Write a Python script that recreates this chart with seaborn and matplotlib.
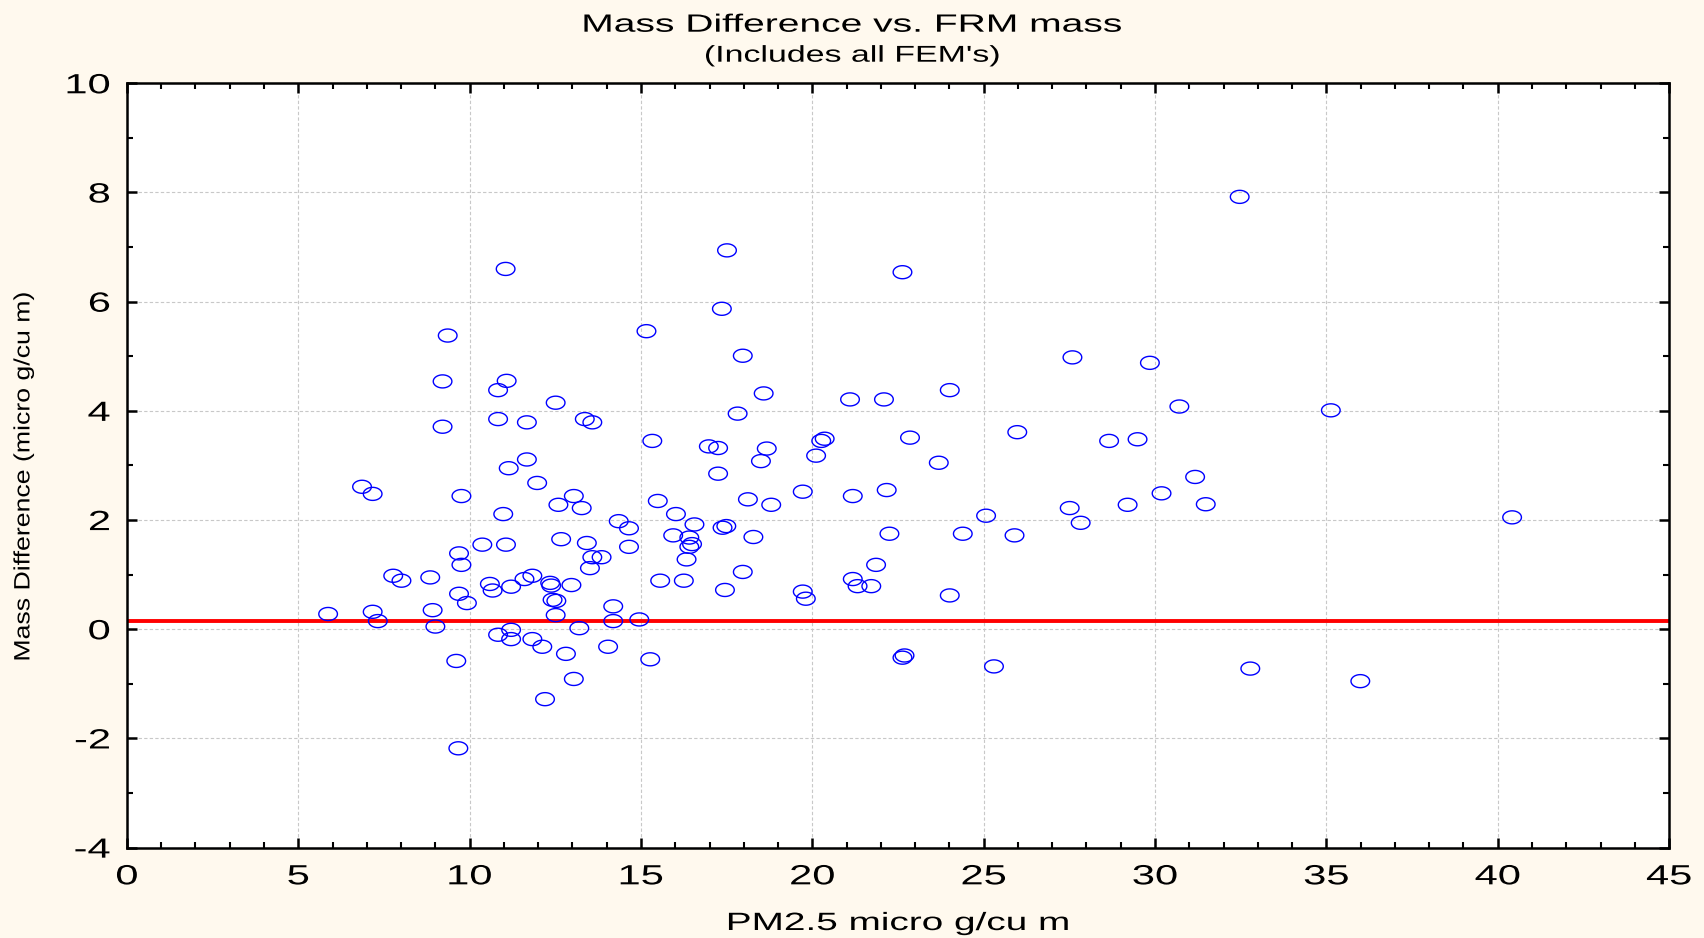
import numpy as np
import pandas as pd
import matplotlib
matplotlib.use("Agg")
import matplotlib.pyplot as plt
from matplotlib.path import Path
from matplotlib.ticker import MultipleLocator
from matplotlib import patheffects as pe
from matplotlib.transforms import Affine2D
import seaborn as sns

# ---- data ----
pm25 = [
    9.21, 10.83, 11.08, 12.51, 9.21, 10.83, 11.67, 13.36, 13.58, 15.33,
    16.98, 17.25, 17.25, 11.67, 11.14, 11.97, 6.86, 7.17, 9.76, 13.04,
    12.59, 13.27, 10.98, 15.49, 16.02, 16.56, 14.35, 14.65, 15.94, 16.41,
    16.49, 16.41, 16.33, 17.38, 17.45, 10.37, 11.06, 12.67, 13.42, 14.65,
    9.69, 9.76, 13.58, 13.85, 13.51, 7.77, 8.01, 8.85, 10.59, 10.67,
    11.21, 11.60, 11.83, 12.35, 12.38, 12.97, 9.69, 9.92, 12.42, 12.53,
    12.51, 14.19, 14.19, 14.95, 15.56, 16.25, 5.87, 7.17, 7.32, 8.92,
    9.00, 10.83, 11.21, 11.21, 11.83, 12.12, 12.81, 13.20, 14.04, 15.27,
    9.61, 13.04, 12.20, 9.67, 11.05, 9.36, 15.16,
    17.51, 22.63, 17.36, 17.97, 18.58, 17.82, 21.10, 22.09, 24.01, 27.59,
    29.85, 18.67, 18.50, 20.36, 20.26, 20.11, 22.85, 23.69, 25.98, 28.66,
    29.49, 18.12, 18.80, 19.72, 21.18, 22.17, 17.49, 18.28, 22.25, 24.39,
    25.07, 25.90, 27.51, 27.83, 29.20, 17.97, 19.72, 19.81, 21.18, 21.32,
    21.72, 21.86, 24.01, 22.63, 22.69, 25.30,
    32.47, 30.71, 35.13, 31.17, 30.19, 31.48, 40.42, 32.78, 35.99,
]
mass_diff = [
    4.54, 4.38, 4.55, 4.15, 3.71, 3.85, 3.79, 3.85, 3.79, 3.45,
    3.35, 3.32, 2.85, 3.11, 2.95, 2.68, 2.61, 2.48, 2.44, 2.44,
    2.28, 2.22, 2.11, 2.35, 2.11, 1.92, 1.98, 1.85, 1.72, 1.68,
    1.56, 1.51, 1.28, 1.86, 0.72, 1.55, 1.55, 1.65, 1.58, 1.51,
    1.39, 1.18, 1.32, 1.32, 1.12, 0.98, 0.89, 0.95, 0.83, 0.71,
    0.78, 0.92, 0.98, 0.85, 0.80, 0.81, 0.65, 0.48, 0.54, 0.52,
    0.26, 0.42, 0.15, 0.18, 0.89, 0.89, 0.28, 0.32, 0.15, 0.35,
    0.05, -0.10, -0.01, -0.18, -0.18, -0.32, -0.45, 0.02, -0.32, -0.55,
    -0.58, -0.91, -1.28, -2.18, 6.60, 5.38, 5.46,
    6.94, 6.54, 5.87, 5.01, 4.32, 3.95, 4.21, 4.21, 4.38, 4.98,
    4.88, 3.31, 3.08, 3.49, 3.45, 3.18, 3.51, 3.05, 3.61, 3.45,
    3.48, 2.38, 2.28, 2.52, 2.44, 2.55, 1.89, 1.69, 1.75, 1.75,
    2.08, 1.72, 2.22, 1.95, 2.28, 1.05, 0.69, 0.56, 0.92, 0.79,
    0.79, 1.18, 0.62, -0.52, -0.48, -0.68,
    7.92, 4.08, 4.01, 2.79, 2.49, 2.29, 2.05, -0.72, -0.95,
]
ref_level = 0.15

x_ticks = [0, 5, 10, 15, 20, 25, 30, 35, 40, 45]
x_tick_labels = ["0", "5", "10", "15", "20", "25", "30", "35", "40", "45"]
y_ticks = [-4, -2, 0, 2, 4, 6, 8, 10]
y_tick_labels = ["-4", "-2", "0", "2", "4", "6", "8", "10"]

title = "Mass Difference vs. FRM mass"
subtitle = "(Includes all FEM's)"
x_label = "PM2.5 micro g/cu m"
y_label = "Mass Difference (micro g/cu m)"

df = pd.DataFrame({"pm25": pm25, "diff": mass_diff})


class Stretch(pe.AbstractPathEffect):
    """Draw text wider (or taller) than the font's natural proportions."""

    def __init__(self, sx=1.0, sy=1.0, anchor="center"):
        super().__init__()
        self.sx, self.sy, self.anchor = sx, sy, anchor

    def draw_path(self, renderer, gc, tpath, affine, rgbFace=None):
        ext = tpath.get_extents(affine)
        if self.anchor == "right":
            cx = ext.x1
        elif self.anchor == "left":
            cx = ext.x0
        else:
            cx = 0.5 * (ext.x0 + ext.x1)
        cy = 0.5 * (ext.y0 + ext.y1)
        tr = affine + Affine2D().translate(-cx, -cy).scale(self.sx, self.sy).translate(cx, cy)
        renderer.draw_path(gc, tpath, tr, rgbFace)


# ---- style ----
sns.set_theme(style="white")
plt.rcParams["font.family"] = ["Liberation Sans", "DejaVu Sans"]
plt.rcParams["axes.unicode_minus"] = False
bg = "#FFF9EE"

fig = plt.figure(figsize=(17.04, 9.38), dpi=100, facecolor=bg)
ax = fig.add_axes([0.0745, 0.0963, 0.905, 0.8149])
ax.set_facecolor("white")

# ellipse marker (wider than tall)
t = np.linspace(0, 2 * np.pi, 60)
ell = Path(np.column_stack([np.cos(t), 0.70 * np.sin(t)]), closed=True)

ax.axhline(ref_level, color="#FF0000", lw=2.8, zorder=2)

sns.scatterplot(data=df, x="pm25", y="diff", ax=ax, marker=ell, s=180,
                color="#0000FF", facecolor="none", edgecolor="#0000FF",
                linewidth=1.0, zorder=3, legend=False)

ax.set_xlim(0, 45)
ax.set_ylim(-4, 10)
ax.set_xticks(x_ticks)
ax.set_yticks(y_ticks)
ax.xaxis.set_minor_locator(MultipleLocator(1))
ax.yaxis.set_minor_locator(MultipleLocator(1))
ax.set_xticklabels(x_tick_labels, fontsize=20, color="black",
                   path_effects=[Stretch(1.5, 1.0, "center")])
ax.set_yticklabels(y_tick_labels, fontsize=20, color="black",
                   path_effects=[Stretch(1.5, 1.0, "right")])

ax.grid(True, which="major", color="#C8C8C8", linestyle=(0, (3, 2)), lw=0.8)
ax.set_axisbelow(True)
for sp in ax.spines.values():
    sp.set_color("black")
    sp.set_linewidth(1.8)

ax.tick_params(which="both", direction="in", top=True, right=True,
               bottom=True, left=True, color="black")
ax.tick_params(which="major", length=7, width=1.8, pad=12)
ax.tick_params(which="minor", length=4, width=1.5)

ax.set_xlabel(x_label, fontsize=18, color="black",
              path_effects=[Stretch(1.55, 1.0, "center")])
ax.xaxis.set_label_coords(0.5, -0.1077)
ax.xaxis.label.set_va("baseline")

ax.set_ylabel(y_label, fontsize=16, color="black",
              path_effects=[Stretch(1.0, 1.2, "center")])
ax.yaxis.set_label_coords(-0.0668, 0.486)
ax.yaxis.label.set_va("center")

fig.text(0.5, 1 - 31.7 / 938, title, ha="center", va="baseline",
         fontsize=18, color="black", path_effects=[Stretch(1.56, 1.0, "center")])
fig.text(0.5, 1 - 61.7 / 938, subtitle, ha="center", va="baseline",
         fontsize=16.5, color="black", path_effects=[Stretch(1.48, 1.0, "center")])

fig.savefig("out.png", dpi=100, facecolor=bg)
